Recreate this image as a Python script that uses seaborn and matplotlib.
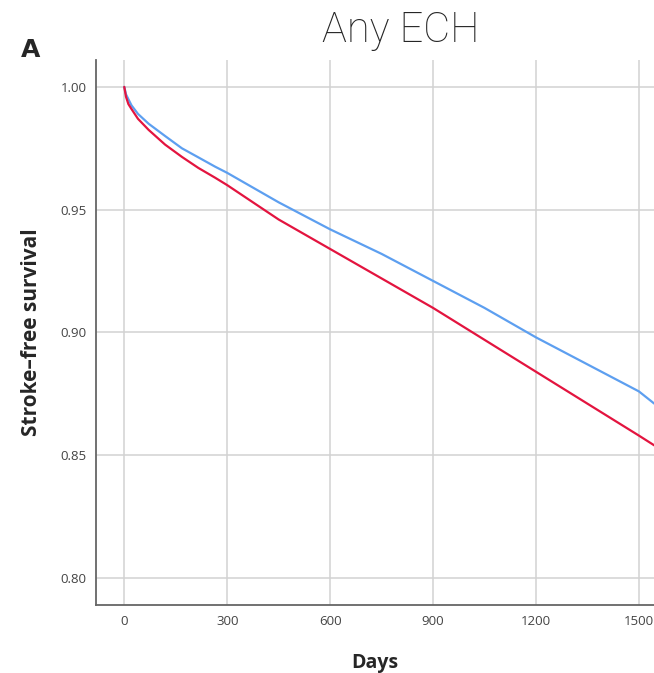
import numpy as np
import pandas as pd
import seaborn as sns
import matplotlib.pyplot as plt

# survival curves (days vs stroke-free survival)
days = [0, 5, 12, 21, 40, 71, 119, 168, 216, 265, 300, 450, 600, 750, 900,
        1050, 1200, 1350, 1500, 1545]
surv_blue = [1.000, 0.997, 0.995, 0.9925, 0.989, 0.985, 0.980, 0.975, 0.9713, 0.9675,
             0.965, 0.953, 0.942, 0.932, 0.921, 0.910, 0.898, 0.887, 0.876, 0.871]
surv_red = [1.000, 0.996, 0.993, 0.991, 0.987, 0.9825, 0.9765, 0.9715, 0.967, 0.963,
            0.960, 0.946, 0.934, 0.922, 0.910, 0.897, 0.884, 0.871, 0.858, 0.854]
groups = ['No ECH', 'ECH']
x_ticks = [0, 300, 600, 900, 1200, 1500]
y_ticks = [0.80, 0.85, 0.90, 0.95, 1.00]

df = pd.DataFrame({
    'Days': days + days,
    'Survival': surv_blue + surv_red,
    'Group': [groups[0]] * len(days) + [groups[1]] * len(days),
})

sns.set_style('whitegrid')
plt.rcParams['font.family'] = ['Open Sans', 'DejaVu Sans']

fig = plt.figure(figsize=(6.54, 6.73), dpi=100)
ax = fig.add_axes([0.147, 0.101, 0.853, 0.810])

sns.lineplot(data=df, x='Days', y='Survival', hue='Group',
             palette={'No ECH': '#5d9ff0', 'ECH': '#e3143f'},
             linewidth=1.6, legend=False, ax=ax, estimator=None)

ax.set_xlim(-82, 1544)
ax.set_ylim(0.789, 1.011)
ax.set_xticks(x_ticks)
ax.set_yticks(y_ticks)
ax.set_yticklabels(['%.2f' % v for v in y_ticks])
ax.tick_params(axis='both', length=0, labelsize=9.5, labelcolor='#444444', pad=7)
ax.grid(True, color='#d2d2d2', linewidth=1.1)

for s in ['top', 'right']:
    ax.spines[s].set_visible(False)
for s in ['left', 'bottom']:
    ax.spines[s].set_visible(True)
    ax.spines[s].set_color('#666666')
    ax.spines[s].set_linewidth(1.3)

ax.set_xlabel('Days', fontsize=14, fontweight='bold', labelpad=18)
ax.set_ylabel('Stroke\u2013free survival', fontsize=15, fontweight='bold', labelpad=13)

fig.text(0.612, 0.955, 'Any ECH', ha='center', va='center', fontsize=30,
         fontweight='light', family=['Roboto', 'DejaVu Sans'])
fig.text(0.046, 0.925, 'A', ha='center', va='center', fontsize=18, fontweight='bold',
         family=['DejaVu Sans'])

fig.savefig('out.png', dpi=100)
